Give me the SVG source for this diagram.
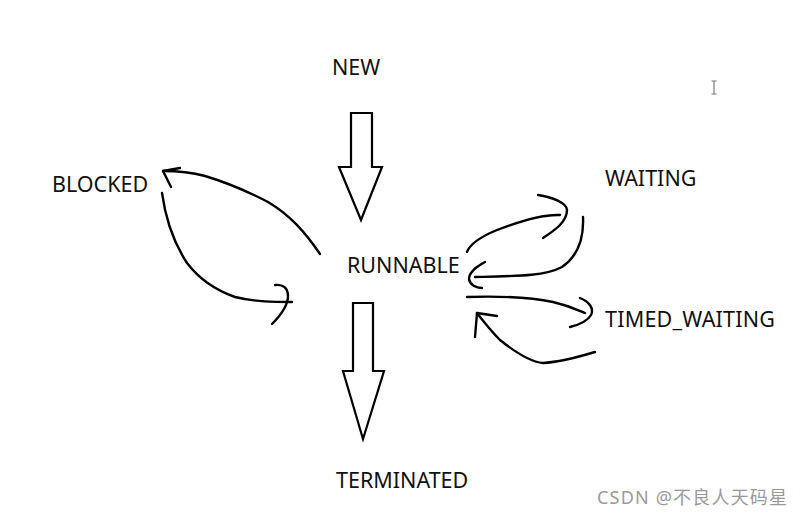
<svg xmlns="http://www.w3.org/2000/svg" width="805" height="519" viewBox="0 0 805 519">
<style>
.lbl{font-family:"Noto Sans","Open Sans","Liberation Sans",sans-serif;font-size:21.5px;fill:#111;}
.big{fill:#fff;stroke:#000;stroke-width:2.2;stroke-linejoin:miter;}
.ink{fill:none;stroke:#000;stroke-width:2.4;stroke-linecap:round;stroke-linejoin:round;}
.wm{font-family:"Noto Sans","Noto Sans CJK SC",sans-serif;font-size:18px;fill:#9a9a9a;}
</style>
<rect width="805" height="519" fill="#fff"/>
<g id="node-new"><text class="lbl" x="332" y="75">NEW</text></g>
<g id="node-runnable"><text class="lbl" x="347" y="273">RUNNABLE</text></g>
<g id="node-blocked"><text class="lbl" x="52" y="192">BLOCKED</text></g>
<g id="node-waiting"><text class="lbl" x="605" y="186">WAITING</text></g>
<g id="node-timed-waiting"><text class="lbl" x="605" y="327" textLength="170">TIMED_WAITING</text></g>
<g id="node-terminated"><text class="lbl" x="336" y="488">TERMINATED</text></g>
<g id="connectors">
  <path class="big" d="M351,113 H372 V167 H382 L361,220 L339,167 H351 Z"/>
  <path class="big" d="M353,303 H373 V371 H384 L363,439 L343,371 H353 Z"/>
  <path class="ink" d="M320,254 C305,232 290,215 268,202 C245,190 225,182 205,176 C190,172 178,171 163,171"/>
  <path class="ink" d="M180,168 L163,171 L171,187"/>
  <path class="ink" d="M162,193 C165,215 172,240 187,263 C200,280 215,290 235,297 C255,302 275,302 292,302"/>
  <path class="ink" d="M275,285 C283,284 288,288 288,296 C288,305 282,314 272,324"/>
  <path class="ink" d="M467,252 C470,244 480,237 497,230 C515,223 540,214 560,215"/>
  <path class="ink" d="M538,195 C552,197 567,203 567,210 C567,222 555,230 543,238"/>
  <path class="ink" d="M583,217 C584,238 578,256 562,267 C545,276 520,276 475,277"/>
  <path class="ink" d="M485,262 C476,267 469,272 469,279 C470,285 476,288 482,288"/>
  <path class="ink" d="M467,297 C500,296 530,297 553,302 C570,306 578,310 585,313"/>
  <path class="ink" d="M580,298 C590,302 594,309 591,315 C587,322 578,325 570,327"/>
  <path class="ink" d="M595,352 C575,358 560,362 543,363 C530,362 515,352 500,340 C490,330 484,322 477,313"/>
  <path class="ink" d="M497,316 L477,313 L475,337"/>
</g>
<g id="cursor" stroke="#777" stroke-width="1.2" fill="none">
  <path d="M714,81 V94 M711.5,81 H716.5 M711.5,94 H716.5"/>
</g>
<text class="wm" x="597" y="504" textLength="190" lengthAdjust="spacing">CSDN @不良人天码星</text>
</svg>
